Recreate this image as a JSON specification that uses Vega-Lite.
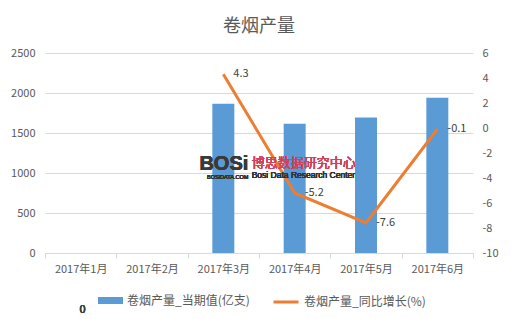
{
  "$schema": "https://vega.github.io/schema/vega-lite/v6.json",
  "width": 428,
  "height": 200,
  "autosize": {"type": "none"},
  "padding": {"left": 45, "top": 53, "right": 39, "bottom": 66},
  "background": "white",
  "title": {
    "text": "卷烟产量",
    "fontSize": 18,
    "font": "Noto Sans CJK SC",
    "fontWeight": "normal",
    "color": "#595959",
    "offset": 11,
    "anchor": "middle"
  },
  "data": {
    "values": [
      {"month": "2017年1月", "value": 0, "rate": null},
      {"month": "2017年2月", "value": 0, "rate": null},
      {"month": "2017年3月", "value": 1866, "rate": 4.3},
      {"month": "2017年4月", "value": 1617, "rate": -5.2},
      {"month": "2017年5月", "value": 1693, "rate": -7.6},
      {"month": "2017年6月", "value": 1942, "rate": -0.1}
    ]
  },
  "encoding": {
    "x": {
      "field": "month",
      "type": "nominal",
      "sort": null,
      "scale": {"paddingInner": 0, "paddingOuter": 0},
      "axis": {
        "title": null,
        "labelAngle": 0,
        "labelColor": "#595959",
        "labelFontSize": 11,
        "labelFont": "Noto Sans CJK SC",
        "labelPadding": 5,
        "domainColor": "#D9D9D9",
        "tickColor": "#D9D9D9",
        "tickSize": 5,
        "tickBand": "extent",
        "grid": false
      }
    }
  },
  "layer": [
    {
      "mark": {"type": "bar", "width": 22, "color": "#5B9BD5"},
      "encoding": {
        "y": {
          "field": "value",
          "type": "quantitative",
          "scale": {"domain": [0, 2500], "nice": false},
          "axis": {
            "title": null,
            "values": [0, 500, 1000, 1500, 2000, 2500],
            "format": "d",
            "labelOverlap": false,
            "domain": false,
            "ticks": false,
            "labelColor": "#595959",
            "labelFontSize": 11,
            "labelFont": "Noto Sans CJK SC",
            "labelPadding": 10,
            "gridColor": "#D9D9D9",
            "grid": true,
            "orient": "left"
          }
        },
        "color": {
          "datum": "卷烟产量_当期值(亿支)",
          "scale": {"range": ["#5B9BD5"]},
          "legend": {
            "title": null,
            "orient": "none",
            "legendX": 53,
            "legendY": 235,
            "symbolType": "M-1,-0.28H1V0.28H-1Z",
            "symbolSize": 625,
            "symbolStrokeWidth": 0,
            "labelFontSize": 12,
            "labelColor": "#595959",
            "labelFont": "Noto Sans CJK SC",
            "labelOffset": 4
          }
        }
      }
    },
    {
      "transform": [{"filter": "datum.rate != null"}],
      "mark": {"type": "line", "strokeWidth": 3, "color": "#ED7D31"},
      "encoding": {
        "y": {
          "field": "rate",
          "type": "quantitative",
          "scale": {"domain": [-10, 6], "nice": false},
          "axis": {
            "title": null,
            "orient": "right",
            "values": [-10, -8, -6, -4, -2, 0, 2, 4, 6],
            "format": "d",
            "labelOverlap": false,
            "domain": false,
            "ticks": false,
            "grid": false,
            "labelColor": "#595959",
            "labelFontSize": 11,
            "labelFont": "Noto Sans CJK SC",
            "labelPadding": 9
          }
        },
        "stroke": {
          "datum": "卷烟产量_同比增长(%)",
          "scale": {"range": ["#ED7D31"]},
          "legend": {
            "title": null,
            "orient": "none",
            "legendX": 227,
            "legendY": 235,
            "symbolType": "stroke",
            "symbolSize": 625,
            "symbolStrokeWidth": 3,
            "labelFontSize": 12,
            "labelColor": "#595959",
            "labelFont": "Noto Sans CJK SC",
            "labelOffset": 4
          }
        }
      }
    },
    {
      "transform": [{"filter": "datum.rate != null"}],
      "mark": {"type": "text", "align": "left", "baseline": "middle", "dx": 10, "fontSize": 11, "font": "Noto Sans CJK SC", "color": "#404040"},
      "encoding": {
        "y": {"field": "rate", "type": "quantitative", "scale": {"domain": [-10, 6], "nice": false}, "axis": null},
        "text": {"field": "rate", "type": "quantitative", "format": ".1f"}
      }
    },
    {
      "mark": {"type": "text", "font": "Noto Sans CJK SC", "fontSize": 11, "fontWeight": "normal", "color": "#404040", "align": "center", "baseline": "middle", "dx": 2, "clip": false},
      "encoding": {
        "x": {"datum": "2017年1月"},
        "y": {"datum": -712, "scale": {"domain": [0, 2500], "nice": false}, "axis": null},
        "text": {"value": "0"}
      }
    },
    {
      "mark": {"type": "text", "font": "Liberation Sans", "fontWeight": "bold", "fontSize": 20, "color": "#3a3a3a", "align": "right", "baseline": "alphabetic", "dx": 25},
      "encoding": {
        "x": {"datum": "2017年3月"},
        "y": {"datum": 1035, "scale": {"domain": [0, 2500], "nice": false}, "axis": null},
        "text": {"value": "BOSi"}
      }
    },
    {
      "mark": {"type": "text", "font": "Liberation Sans", "fontSize": 5.5, "color": "#333333", "align": "right", "baseline": "alphabetic", "dx": 25},
      "encoding": {
        "x": {"datum": "2017年3月"},
        "y": {"datum": 925, "scale": {"domain": [0, 2500], "nice": false}, "axis": null},
        "text": {"value": "BOSIDATA.COM"}
      }
    },
    {
      "mark": {"type": "text", "font": "Noto Sans CJK SC", "fontSize": 13, "color": "#D2415A", "align": "left", "baseline": "middle", "dx": -43},
      "encoding": {
        "x": {"datum": "2017年4月"},
        "y": {"datum": 1125, "scale": {"domain": [0, 2500], "nice": false}, "axis": null},
        "text": {"value": "博思数据研究中心"}
      }
    },
    {
      "mark": {"type": "text", "font": "Liberation Sans", "fontSize": 8.5, "color": "#333333", "align": "left", "baseline": "middle", "dx": -43},
      "encoding": {
        "x": {"datum": "2017年4月"},
        "y": {"datum": 975, "scale": {"domain": [0, 2500], "nice": false}, "axis": null},
        "text": {"value": "Bosi Data Research Center"}
      }
    }
  ],
  "resolve": {"scale": {"y": "independent", "color": "independent"}},
  "config": {
    "view": {"stroke": null},
    "axis": {"labelFont": "Noto Sans CJK SC"},
    "locale": {
      "number": {
        "decimal": ".",
        "thousands": ",",
        "grouping": [3],
        "currency": ["", ""],
        "minus": "-"
      }
    }
  }
}
